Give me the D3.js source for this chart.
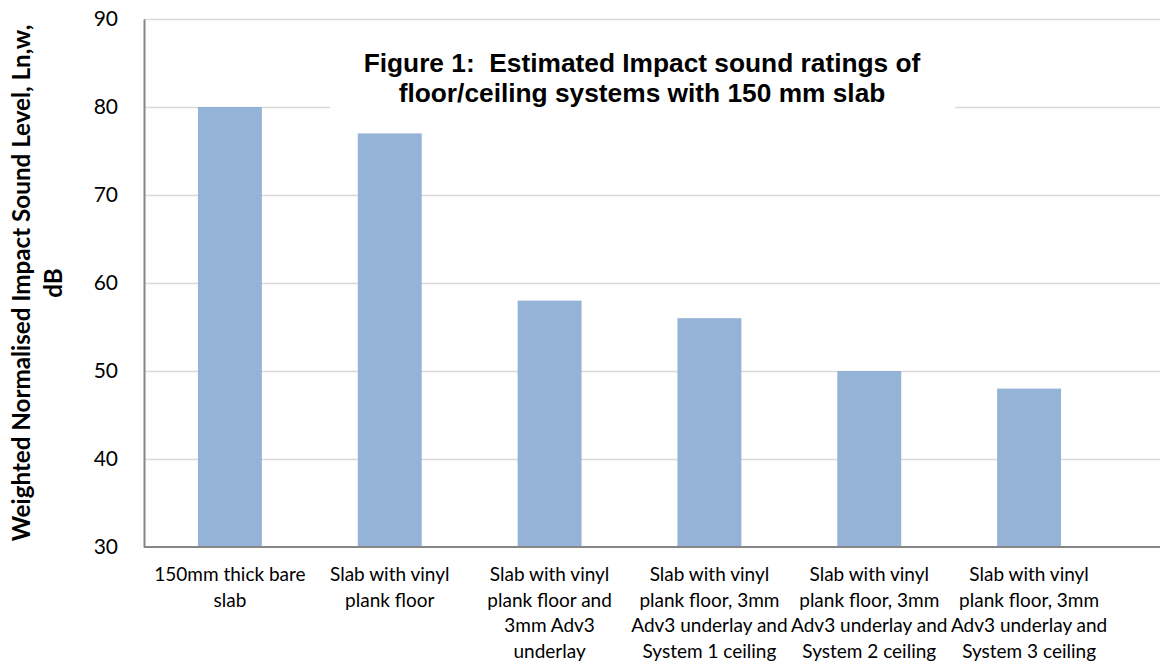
<!DOCTYPE html>
<html><head><meta charset="utf-8">
<script src="https://cdn.jsdelivr.net/npm/d3@7"></script>
<style>body{margin:0;background:#fff}svg{display:block}</style>
</head><body>
<script>
const categories = [
  "150mm thick bare slab",
  "Slab with vinyl plank floor",
  "Slab with vinyl plank floor and 3mm Adv3 underlay",
  "Slab with vinyl plank floor, 3mm Adv3 underlay and System 1 ceiling",
  "Slab with vinyl plank floor, 3mm Adv3 underlay and System 2 ceiling",
  "Slab with vinyl plank floor, 3mm Adv3 underlay and System 3 ceiling"
];
const values = [80, 77, 58, 56, 50, 48];
const yTicks = [30, 40, 50, 60, 70, 80, 90];
const titleLines = ["Figure 1:  Estimated Impact sound ratings of", "floor/ceiling systems with 150 mm slab"];
const yTitleLines = ["Weighted Normalised Impact Sound Level, Ln,w,", "dB"];

const W = 1161, H = 661;
const svg = d3.select("body").append("svg").attr("width", W).attr("height", H);
const plotL = 144, plotR = 1160, plotT = 19, plotB = 547;

const y = d3.scaleLinear().domain([30, 90]).range([plotB, plotT]);
const x = d3.scaleBand().domain(categories).range([150, 1109]).paddingInner(0.6).paddingOuter(0.3);

// gridlines
svg.append("g").selectAll("line").data(yTicks.filter(t => t > 30)).join("line")
  .attr("x1", plotL).attr("x2", plotR)
  .attr("y1", d => y(d) + 0.5).attr("y2", d => y(d) + 0.5)
  .attr("stroke", "#d9d9d9").attr("stroke-width", 1.5);

// bars
svg.append("g").selectAll("rect").data(values).join("rect")
  .attr("x", (d, i) => x(categories[i]))
  .attr("width", x.bandwidth())
  .attr("y", d => y(d))
  .attr("height", d => y(30) - y(d))
  .attr("fill", "#95b3d7");

// title background box + title
const tg = svg.append("g");
tg.append("rect").attr("x", 330).attr("y", 40).attr("width", 625).attr("height", 74).attr("fill", "#fff");
tg.selectAll("text").data(titleLines).join("text")
  .attr("x", 642).attr("y", (d, i) => 72 + i * 30)
  .attr("text-anchor", "middle")
  .style("white-space", "pre")
  .attr("font-family", "Liberation Sans, Arial, sans-serif")
  .attr("font-weight", "bold").attr("font-size", 26.3).attr("fill", "#000")
  .text(d => d);

// y axis
const yAxis = svg.append("g").attr("transform", `translate(${plotL},0)`)
  .call(d3.axisLeft(y).tickValues(yTicks).tickSize(0).tickPadding(26));
yAxis.select(".domain").attr("stroke", "#868686").attr("stroke-width", 2);
yAxis.selectAll("text").attr("font-family", "Lato, sans-serif").attr("font-size", 21).attr("fill", "#000");

// x axis
const xAxis = svg.append("g").attr("transform", `translate(0,${plotB})`)
  .call(d3.axisBottom(x).tickSize(0).tickPadding(0));
xAxis.select(".domain").remove();
svg.append("line").attr("x1", plotL).attr("x2", plotR).attr("y1", plotB).attr("y2", plotB)
  .attr("stroke", "#868686").attr("stroke-width", 2);
xAxis.selectAll("text").attr("font-family", "Lato, sans-serif").attr("font-size", 19).attr("fill", "#000")
  .each(function (d) { wrap(d3.select(this), 160); });

function wrap(text, width) {
  const words = text.text().split(/\s+/);
  text.text(null);
  let line = [], lineNo = 0;
  let tspan = text.append("tspan").attr("x", 0).attr("y", 34).attr("dy", 0);
  for (const w of words) {
    line.push(w);
    tspan.text(line.join(" "));
    if (tspan.node().getComputedTextLength() > width && line.length > 1) {
      line.pop();
      tspan.text(line.join(" "));
      line = [w];
      lineNo++;
      tspan = text.append("tspan").attr("x", 0).attr("y", 34 + lineNo * 25.7).attr("dy", 0).text(w);
    }
  }
}

// y title
svg.append("g").attr("transform", "translate(30,283) rotate(-90)")
  .selectAll("text").data(yTitleLines).join("text")
  .attr("x", 0).attr("y", (d, i) => i * 32)
  .attr("text-anchor", "middle")
  .attr("font-family", "Lato, sans-serif").attr("font-weight", "bold").attr("font-size", 24.2).attr("fill", "#000")
  .text(d => d);
</script>
</body></html>
